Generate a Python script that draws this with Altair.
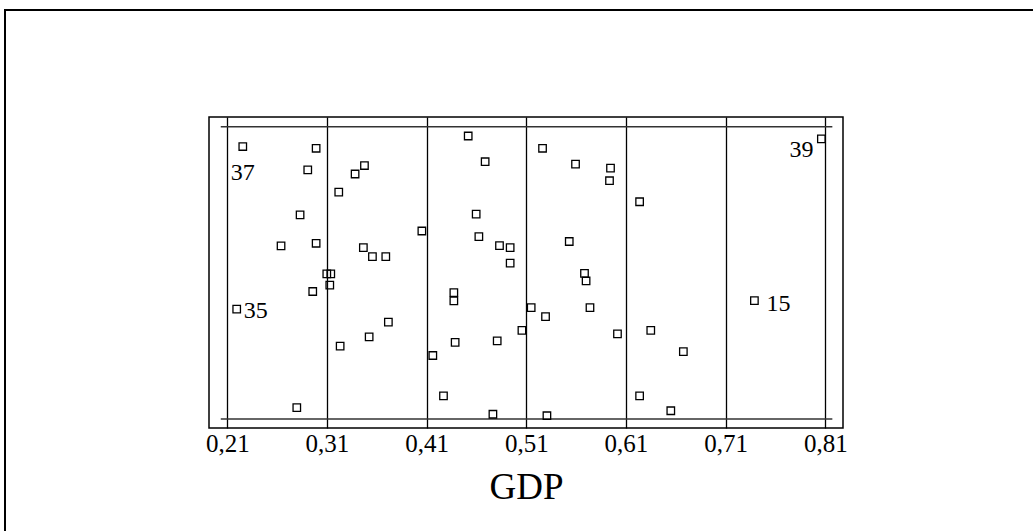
import altair as alt
import pandas as pd

# GDP values (x) and vertical jitter (0..1)
gdp = [0.2255, 0.2991, 0.2907, 0.3476, 0.3382, 0.3218, 0.2830, 0.2639, 0.2991, 0.3465,
       0.3556, 0.3690, 0.3098, 0.3138, 0.4052, 0.4517, 0.4687, 0.4597, 0.4624, 0.4831,
       0.4938, 0.4938, 0.5263, 0.5594, 0.5945, 0.5935, 0.6237, 0.5531, 0.5684, 0.8061,
       0.3128, 0.2957, 0.2194, 0.3716, 0.3523, 0.3232, 0.2797, 0.4373, 0.4373, 0.4386,
       0.4808, 0.4162, 0.4269, 0.4765, 0.5056, 0.5149, 0.5700, 0.5293, 0.5739, 0.6015,
       0.5307, 0.6349, 0.6676, 0.6237, 0.6550, 0.7389]
jitter = [0.932, 0.926, 0.852, 0.867, 0.838, 0.776, 0.698, 0.592, 0.601, 0.586,
          0.555, 0.555, 0.496, 0.496, 0.643, 0.968, 0.880, 0.701, 0.624, 0.593,
          0.586, 0.533, 0.926, 0.872, 0.858, 0.815, 0.743, 0.607, 0.498, 0.958,
          0.458, 0.436, 0.376, 0.331, 0.281, 0.249, 0.039, 0.432, 0.404, 0.262,
          0.267, 0.217, 0.079, 0.016, 0.303, 0.381, 0.472, 0.350, 0.381, 0.291,
          0.011, 0.303, 0.230, 0.079, 0.028, 0.405]
obs_id = [""] * len(gdp)
obs_id[0] = "37"
obs_id[29] = "39"
obs_id[32] = "35"
obs_id[55] = "15"

tick_values = [0.21, 0.31, 0.41, 0.51, 0.61, 0.71, 0.81]
band_x = [0.2034, 0.8171]
band_y = [0.0, 1.0]

df = pd.DataFrame({"gdp": gdp, "j": jitter, "id": obs_id})
band = pd.DataFrame({"x1": [band_x[0]] * 2, "x2": [band_x[1]] * 2, "y": band_y})
one = pd.DataFrame({"a": [0]})

xscale = alt.Scale(domain=[0.1916, 0.8278], nice=False, zero=False)
yscale = alt.Scale(domain=[-0.031, 1.033], nice=False, zero=False)

xaxis = alt.Axis(values=tick_values, format=".2f",
                 labelExpr="replace(datum.label, '.', ',')",
                 grid=True, gridColor="black", gridOpacity=1, gridWidth=1.3,
                 domain=False, ticks=False, labelPadding=3,
                 labelFont="Liberation Serif", labelFontSize=25, labelColor="black",
                 title="GDP", titleFont="Liberation Serif", titleFontSize=37,
                 titleFontWeight="normal", titleColor="black", titlePadding=13)

border = alt.Chart(one).mark_rect(filled=False, stroke="black", strokeWidth=2).encode(
    x=alt.value(-204), y=alt.value(-107), x2=alt.value(900), y2=alt.value(500)
)

rules = alt.Chart(band).mark_rule(color="#333333", strokeWidth=1.5).encode(
    x=alt.X("x1:Q", scale=xscale, axis=xaxis),
    x2="x2:Q",
    y=alt.Y("y:Q", scale=yscale, axis=None),
)

points = alt.Chart(df).mark_square(filled=False, stroke="black", strokeWidth=1.3,
                                   size=56, opacity=1).encode(
    x=alt.X("gdp:Q", scale=xscale, axis=xaxis),
    y=alt.Y("j:Q", scale=yscale, axis=None),
)

def label(idv, align, dx, dy):
    return alt.Chart(df).transform_filter(alt.datum.id == idv).mark_text(
        font="Liberation Serif", fontSize=24, color="black",
        align=align, baseline="alphabetic", dx=dx, dy=dy
    ).encode(
        x=alt.X("gdp:Q", scale=xscale, axis=xaxis),
        y=alt.Y("j:Q", scale=yscale, axis=None),
        text="id:N",
    )

labels = (label("37", "center", 0, 33) + label("39", "right", -8, 18)
          + label("35", "left", 7, 9) + label("15", "left", 12, 10))

chart = alt.layer(border, rules, points, labels).properties(
    width=634, height=311,
    autosize=alt.AutoSizeParams(type="none"),
    padding={"left": 209, "top": 117, "right": 190, "bottom": 103},
    background="white",
).configure_view(stroke="black", strokeWidth=1.5)

chart.save("out.html", embed_options={"renderer": "svg", "actions": False})
